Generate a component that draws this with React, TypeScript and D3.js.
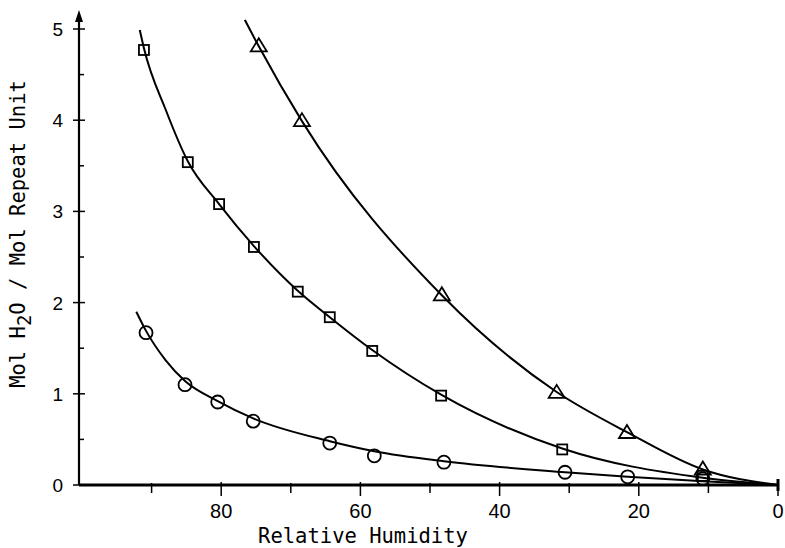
import React from "react";
import * as d3 from "d3";

// Data
const circleHumidity = [90.8, 85.2, 80.5, 75.4, 64.4, 58.0, 48.0, 30.6, 21.6, 10.8];
const circleWater = [1.67, 1.10, 0.91, 0.70, 0.46, 0.32, 0.25, 0.14, 0.09, 0.07];

const squareHumidity = [91.1, 84.8, 80.3, 75.3, 69.0, 64.4, 58.3, 48.4, 31.0, 10.8];
const squareWater = [4.77, 3.54, 3.08, 2.61, 2.12, 1.84, 1.47, 0.98, 0.39, 0.10];

const triangleHumidity = [74.6, 68.4, 48.3, 31.8, 21.7, 10.8];
const triangleWater = [4.81, 3.99, 2.08, 1.01, 0.57, 0.17];

// Fitted curves
const circleFitHumidity = [92.2, 90.8, 88.0, 85.2, 80.5, 75.4, 64.4, 58.0, 48.0, 30.6, 21.6, 10.8, 0];
const circleFitWater = [1.90, 1.69, 1.37, 1.14, 0.92, 0.73, 0.48, 0.37, 0.26, 0.14, 0.09, 0.04, 0];

const squareFitHumidity = [91.7, 91.1, 88.0, 84.8, 80.3, 75.3, 69.0, 64.4, 58.3, 48.4, 31.0, 10.8, 0];
const squareFitWater = [4.99, 4.79, 4.12, 3.55, 3.08, 2.62, 2.13, 1.84, 1.48, 0.99, 0.40, 0.08, 0];

const triangleFitHumidity = [76.6, 74.6, 68.4, 48.3, 31.8, 21.7, 10.8, 0];
const triangleFitWater = [5.10, 4.81, 3.99, 2.08, 1.02, 0.58, 0.17, 0];

const xMajorTicks = [80, 60, 40, 20, 0];
const xMinorTicks = [90, 70, 50, 30, 10];
const yMajorTicks = [0, 1, 2, 3, 4, 5];
const yMinorTicks = [0.5, 1.5, 2.5, 3.5, 4.5];

const xTitle = "Relative Humidity";

export default function App() {
  const x = d3.scaleLinear().domain([100, 0]).range([82, 778]);
  const y = d3.scaleLinear().domain([0, 5]).range([485, 29]);

  const line = d3
    .line<[number, number]>()
    .x((d) => x(d[0]))
    .y((d) => y(d[1]))
    .curve(d3.curveMonotoneX);

  const zip = (a: number[], b: number[]) => a.map((v, i) => [v, b[i]] as [number, number]);

  const circleFit = zip(circleFitHumidity, circleFitWater);
  const squareFit = zip(squareFitHumidity, squareFitWater);
  const triangleFit = zip(triangleFitHumidity, triangleFitWater);

  const axisX0 = 79;
  const axisY0 = 485;
  const tickFont = "'Liberation Sans', Arial, sans-serif";
  const titleFont = "'DejaVu Sans Mono', monospace";

  return (
    <div style={{ position: "fixed", left: 0, top: 0, background: "#fff" }}>
      <svg width={785} height={548} style={{ display: "block" }}>
        <rect width={785} height={548} fill="#fff" />
        {/* curves */}
        <g fill="none" stroke="#000" strokeWidth={2}>
          <path d={line(circleFit) || ""} />
          <path d={line(squareFit) || ""} />
          <path d={line(triangleFit) || ""} />
        </g>
        {/* markers */}
        <g fill="none" stroke="#000" strokeWidth={1.8}>
          {circleHumidity.map((h, i) => (
            <circle key={"c" + i} cx={x(h)} cy={y(circleWater[i])} r={6.5} />
          ))}
          {squareHumidity.map((h, i) => (
            <rect
              key={"s" + i}
              x={x(h) - 5}
              y={y(squareWater[i]) - 5}
              width={10}
              height={10}
            />
          ))}
          {triangleHumidity.map((h, i) => {
            const cx = x(h);
            const cy = y(triangleWater[i]);
            return (
              <path
                key={"t" + i}
                d={`M${cx},${cy - 8}L${cx + 8},${cy + 5}L${cx - 8},${cy + 5}Z`}
              />
            );
          })}
        </g>
        {/* x axis */}
        <line x1={axisX0} x2={x(0)} y1={axisY0} y2={axisY0} stroke="#000" strokeWidth={3} />
        <g stroke="#000" strokeWidth={1.5}>
          {xMajorTicks.map((t) => (
            <line key={"xm" + t} x1={x(t)} x2={x(t)} y1={axisY0 - 3} y2={axisY0 + 11} />
          ))}
          {xMinorTicks.map((t) => (
            <line key={"xn" + t} x1={x(t)} x2={x(t)} y1={axisY0 - 2} y2={axisY0 + 8} />
          ))}
          <line x1={x(0)} x2={x(0)} y1={axisY0 - 6} y2={axisY0 + 6} strokeWidth={3} />
        </g>
        <g fontFamily={tickFont} fontSize={20} textAnchor="middle" fill="#000">
          {xMajorTicks.map((t) => (
            <text key={"xl" + t} x={x(t)} y={518}>
              {t}
            </text>
          ))}
        </g>
        <text
          x={363}
          y={543}
          fontFamily={titleFont}
          fontSize={20.5}
          textAnchor="middle"
          fill="#000"
        >
          {xTitle}
        </text>
        {/* y axis */}
        <line x1={axisX0} x2={axisX0} y1={axisY0} y2={18} stroke="#000" strokeWidth={2.2} />
        <path d={`M${axisX0},10L${axisX0 + 4},22L${axisX0 - 4},22Z`} fill="#000" />
        <g stroke="#000" strokeWidth={1.5}>
          {yMajorTicks.map((t) => (
            <line key={"ym" + t} x1={axisX0 - 6} x2={axisX0 + 6} y1={y(t)} y2={y(t)} />
          ))}
          {yMinorTicks.map((t) => (
            <line key={"yn" + t} x1={axisX0} x2={axisX0 + 5} y1={y(t)} y2={y(t)} />
          ))}
        </g>
        <g fontFamily={tickFont} fontSize={19} textAnchor="end" fill="#000">
          {yMajorTicks.map((t) => (
            <text key={"yl" + t} x={63} y={y(t) + 7}>
              {t}
            </text>
          ))}
        </g>
        <text
          transform="translate(25,234) rotate(-90)"
          fontFamily={titleFont}
          fontSize={20.5}
          textAnchor="middle"
          fill="#000"
        >
          Mol H
          <tspan dy={6} fontSize={19}>2</tspan>
          <tspan dy={-6}>O / Mol Repeat Unit</tspan>
        </text>
      </svg>
    </div>
  );
}
